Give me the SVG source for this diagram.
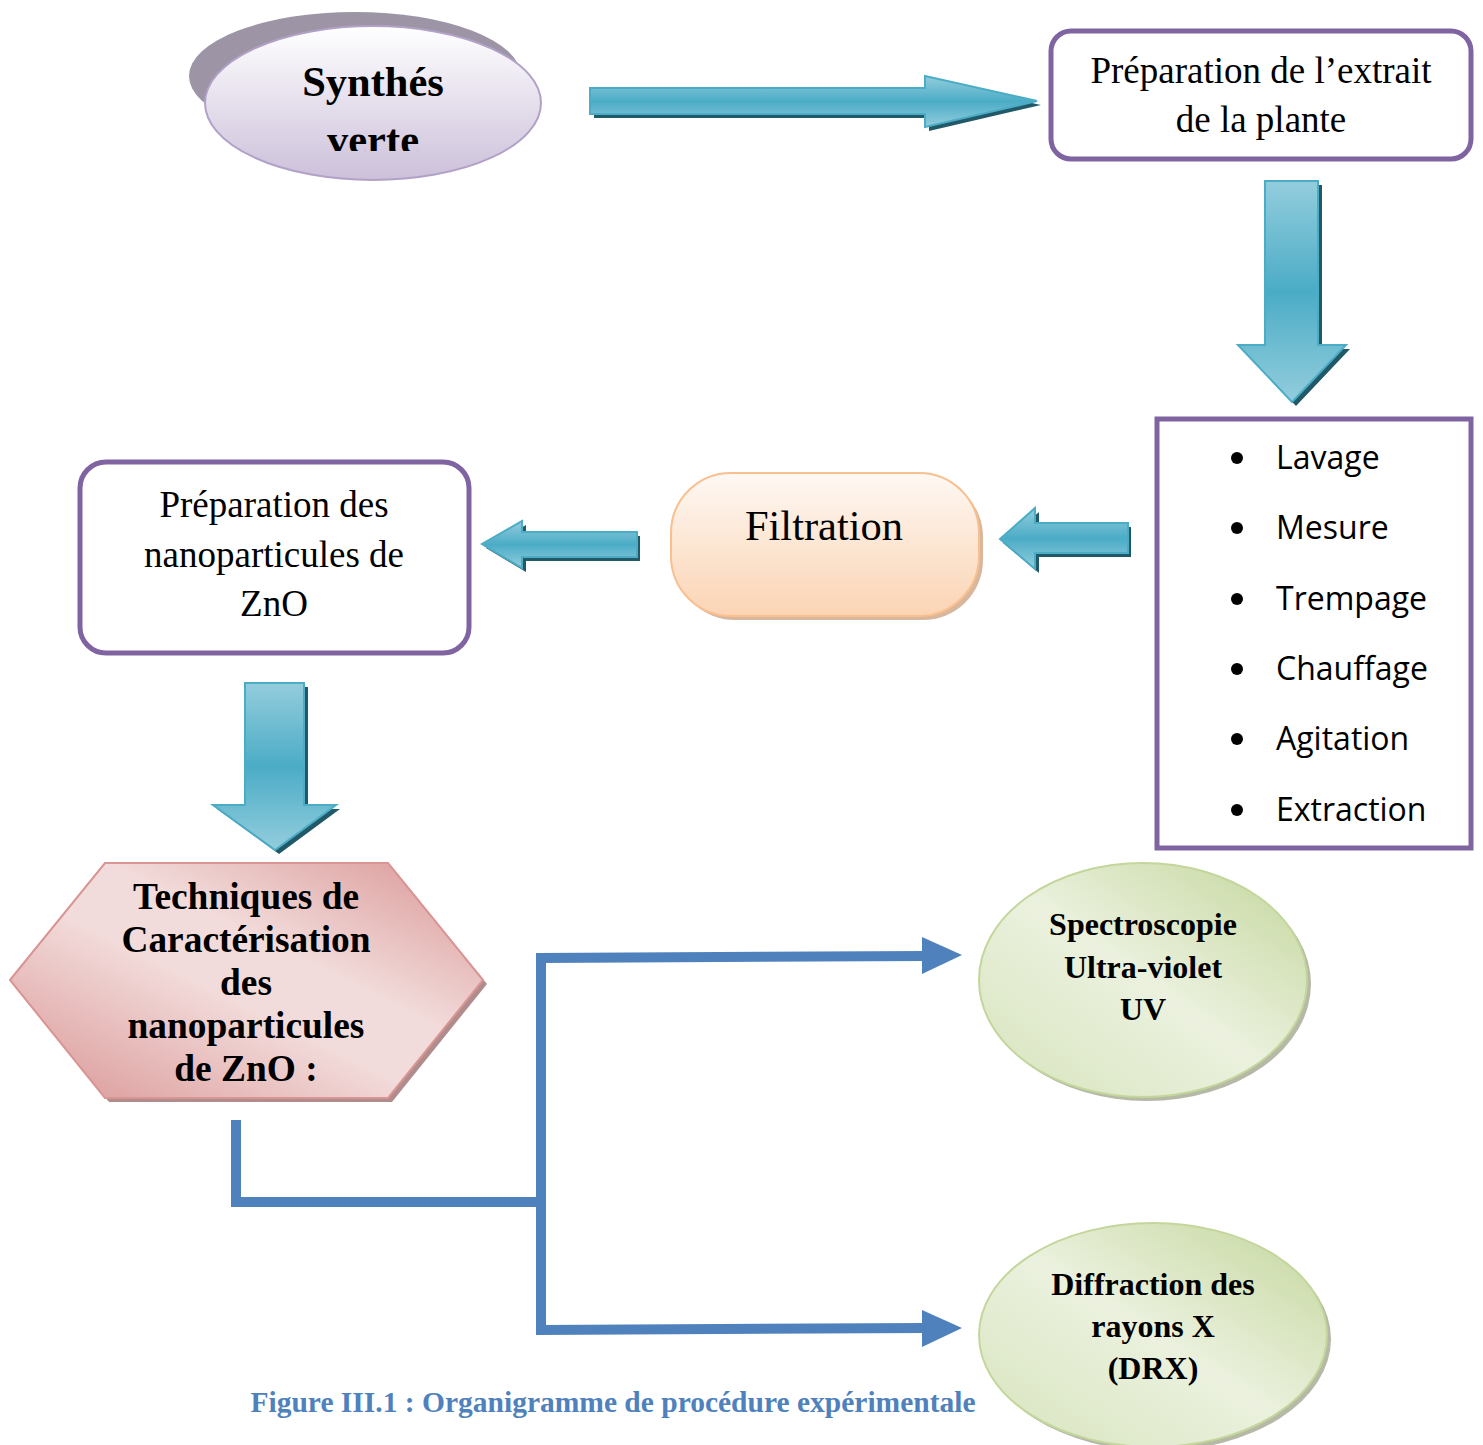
<svg xmlns="http://www.w3.org/2000/svg" width="1483" height="1445" viewBox="0 0 1483 1445">
<defs>
<linearGradient id="gPurple" x1="0" y1="0" x2="0" y2="1">
<stop offset="0" stop-color="#ffffff"/><stop offset="1" stop-color="#ccc0da"/>
</linearGradient>
<linearGradient id="gTealV" x1="0" y1="0" x2="0" y2="1">
<stop offset="0" stop-color="#93cddd"/><stop offset="0.5" stop-color="#4bacc6"/><stop offset="1" stop-color="#93cddd"/>
</linearGradient>
<linearGradient id="gTealH" x1="0" y1="0" x2="0" y2="1">
<stop offset="0" stop-color="#93cddd"/><stop offset="0.5" stop-color="#4bacc6"/><stop offset="1" stop-color="#93cddd"/>
</linearGradient>
<linearGradient id="gPeach" x1="0" y1="0" x2="0" y2="1">
<stop offset="0" stop-color="#fef8f3"/><stop offset="1" stop-color="#fbd4b4"/>
</linearGradient>
<linearGradient id="gPink" x1="0" y1="1" x2="1" y2="0">
<stop offset="0" stop-color="#d99594"/><stop offset="0.45" stop-color="#f2dcdb"/><stop offset="0.6" stop-color="#f2dcdb"/><stop offset="1" stop-color="#d99594"/>
</linearGradient>
<linearGradient id="gGreen" x1="1" y1="0" x2="0" y2="1">
<stop offset="0" stop-color="#c3d69b"/><stop offset="0.5" stop-color="#ebf1de"/><stop offset="1" stop-color="#d7e4bd"/>
</linearGradient>
<clipPath id="clipSyn"><rect x="0" y="0" width="1483" height="151"/></clipPath>
<style>
.serif{font-family:"Liberation Serif","Times New Roman",serif;fill:#000;text-anchor:middle}
.bold{font-weight:bold}
.box{fill:#fff;stroke:#8064a2;stroke-width:5}
.list{font-family:"Open Sans","Noto Sans",sans-serif;font-size:32px;fill:#000}
.shadow{fill:#215968}
.arrow{fill:url(#gTealV);stroke:#4bacc6;stroke-width:2}
.arrowH{fill:url(#gTealH);stroke:#4bacc6;stroke-width:2}
.conn{fill:none;stroke:#4f81bd;stroke-width:10}
</style>
</defs>

<g id="node-synthese">
<ellipse cx="355" cy="76" rx="166" ry="64" fill="#9d95a6"/>
<ellipse cx="373" cy="103" rx="168" ry="77" fill="url(#gPurple)" stroke="#b2a1c7" stroke-width="2"/>
<text class="serif bold" x="373" y="96" font-size="42.5">Synthés</text>
<text class="serif bold" x="373" y="154" font-size="42.5" clip-path="url(#clipSyn)">verte</text>
</g>

<g id="node-extrait">
<rect class="box" x="1051" y="31" width="420" height="128" rx="20"/>
<text class="serif" x="1261" y="83" font-size="37">Préparation de l’extrait</text>
<text class="serif" x="1261" y="132" font-size="37">de la plante</text>
</g>

<g id="node-liste">
<rect class="box" x="1157" y="419" width="314" height="429" rx="0"/>
<g fill="#000">
<circle cx="1237" cy="458" r="6"/><circle cx="1237" cy="528" r="6"/><circle cx="1237" cy="599" r="6"/>
<circle cx="1237" cy="669" r="6"/><circle cx="1237" cy="739" r="6"/><circle cx="1237" cy="810" r="6"/>
</g>
<text class="list" x="1276" y="469">Lavage</text>
<text class="list" x="1276" y="539">Mesure</text>
<text class="list" x="1276" y="610">Trempage</text>
<text class="list" x="1276" y="680">Chauffage</text>
<text class="list" x="1276" y="750">Agitation</text>
<text class="list" x="1276" y="821">Extraction</text>
</g>

<g id="node-filtration">
<rect x="675" y="477" width="308" height="143" rx="60" fill="#d8b79c"/>
<rect x="671" y="473" width="308" height="143" rx="60" fill="url(#gPeach)" stroke="#f9bf8f" stroke-width="2"/>
<text class="serif" x="824" y="540" font-size="42.5">Filtration</text>
</g>

<g id="node-nanoparticules">
<rect class="box" x="80" y="462" width="389" height="191" rx="26"/>
<text class="serif" x="274" y="517" font-size="37">Préparation des</text>
<text class="serif" x="274" y="567" font-size="37">nanoparticules de</text>
<text class="serif" x="274" y="616" font-size="37">ZnO</text>
</g>

<g id="node-techniques">
<polygon points="14,984 109,867 392,867 487,984 392,1102 109,1102" fill="#b08c8c"/>
<polygon points="10,980 105,863 388,863 483,980 388,1098 105,1098" fill="url(#gPink)" stroke="#d99594" stroke-width="2"/>
<text class="serif bold" x="246" y="909" font-size="37.4">Techniques de</text>
<text class="serif bold" x="246" y="952" font-size="37.4">Caractérisation</text>
<text class="serif bold" x="246" y="995" font-size="37.4">des</text>
<text class="serif bold" x="246" y="1038" font-size="37.4">nanoparticules</text>
<text class="serif bold" x="246" y="1081" font-size="37.4">de ZnO :</text>
</g>

<g id="node-uv">
<ellipse cx="1147" cy="984" rx="164" ry="117" fill="#b5b9a6"/>
<ellipse cx="1143" cy="980" rx="164" ry="117" fill="url(#gGreen)" stroke="#c3d69b" stroke-width="2"/>
<text class="serif bold" x="1143" y="935" font-size="32">Spectroscopie</text>
<text class="serif bold" x="1143" y="978" font-size="32">Ultra-violet</text>
<text class="serif bold" x="1143" y="1020" font-size="32">UV</text>
</g>

<g id="node-drx">
<ellipse cx="1157" cy="1339" rx="174" ry="112" fill="#b5b9a6"/>
<ellipse cx="1153" cy="1335" rx="174" ry="112" fill="url(#gGreen)" stroke="#c3d69b" stroke-width="2"/>
<text class="serif bold" x="1153" y="1295" font-size="32">Diffraction des</text>
<text class="serif bold" x="1153" y="1337" font-size="32">rayons X</text>
<text class="serif bold" x="1153" y="1379" font-size="32">(DRX)</text>
</g>

<g id="connectors">
<polygon class="shadow" points="594,92 929,92 929,80 1041,105 929,131 929,118 594,118"/>
<polygon class="arrowH" points="590,88 925,88 925,76 1037,101 925,127 925,114 590,114"/>
<polygon class="shadow" points="1269,185 1322,185 1322,349 1350,349 1296,406 1242,349 1269,349"/>
<polygon class="arrow" points="1265,181 1318,181 1318,345 1346,345 1292,402 1238,345 1265,345"/>
<polygon class="shadow" points="1131,527 1039,527 1039,512 1003,543 1039,573 1039,557 1131,557"/>
<polygon class="arrowH" points="1128,523 1035,523 1035,508 1000,539 1035,569 1035,553 1128,553"/>
<polygon class="shadow" points="640,536 526,536 526,525 486,548 526,572 526,561 640,561"/>
<polygon class="arrowH" points="637,532 522,532 522,521 482,544 522,568 522,557 637,557"/>
<polygon class="shadow" points="249,687 308,687 308,809 340,809 279,854 217,809 249,809"/>
<polygon class="arrow" points="245,683 304,683 304,805 336,805 275,850 213,805 245,805"/>
<polyline class="conn" points="236,1120 236,1202 541,1202"/>
<polyline class="conn" points="926,956 541,958 541,1330 926,1328"/>
<polygon fill="#4f81bd" points="922,937 962,955 922,974"/>
<polygon fill="#4f81bd" points="922,1310 962,1328 922,1347"/>
</g>

<text class="serif bold" x="613" y="1412" font-size="29.5" style="fill:#4f81bd">Figure III.1 : Organigramme de procédure expérimentale</text>
</svg>
